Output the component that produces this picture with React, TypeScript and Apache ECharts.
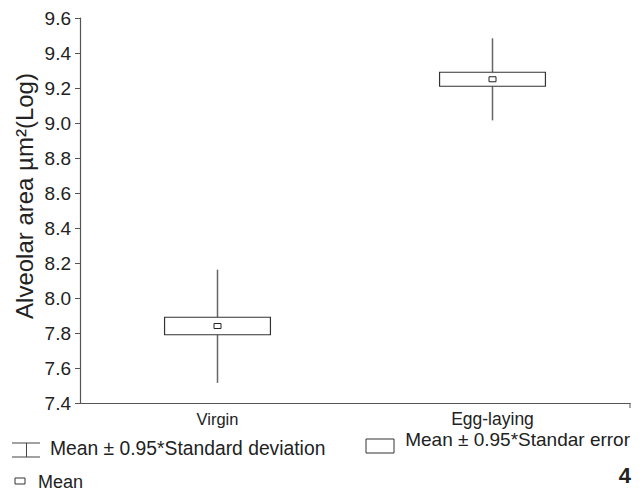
import React, { useEffect, useRef } from "react";
import * as echarts from "echarts";

const categories = ["Virgin", "Egg-laying"];
const means = [7.84, 9.25];
const seLow = [7.79, 9.21];
const seHigh = [7.89, 9.29];
const sdLow = [7.515, 9.015];
const sdHigh = [8.162, 9.484];
const yTicks = ["7.4", "7.6", "7.8", "8.0", "8.2", "8.4", "8.6", "8.8", "9.0", "9.2", "9.4", "9.6"];

const FONT = "'Liberation Sans', Arial, sans-serif";

export default function App() {
  const ref = useRef<HTMLDivElement>(null);
  useEffect(() => {
    if (!ref.current) return;
    const chart = echarts.init(ref.current, null, { renderer: "svg" });
    const data = categories.map((_, i) => [i, means[i], seLow[i], seHigh[i], sdLow[i], sdHigh[i]]);
    chart.setOption({
      animation: false,
      textStyle: { fontFamily: FONT },
      grid: { left: 80, right: 12, top: 18, bottom: 89 },
      xAxis: {
        type: "category",
        data: [
          { value: categories[0], textStyle: { fontSize: 16.5 } },
          { value: categories[1], textStyle: { fontSize: 17.5 } },
        ],
        axisLine: { lineStyle: { color: "#555", width: 1.2 } },
        axisTick: { alignWithLabel: true, length: 5, lineStyle: { color: "#555" } },
        axisLabel: { color: "#222", margin: 7, fontFamily: FONT },
      },
      yAxis: {
        type: "value",
        min: 7.4,
        max: 9.6,
        interval: 0.2,
        splitLine: { show: false },
        axisLine: { show: true, lineStyle: { color: "#555", width: 1.2 } },
        axisTick: { show: true, length: 5, lineStyle: { color: "#555" } },
        axisLabel: {
          color: "#222",
          fontSize: 19,
          margin: 9,
          fontFamily: FONT,
          formatter: (v: number) => {
            const s = v.toFixed(1);
            return yTicks.includes(s) ? s : "";
          },
        },
      },
      series: [
        {
          type: "custom",
          data,
          encode: { x: 0, y: [1, 2, 3, 4, 5] },
          renderItem: (params: any, api: any) => {
            const idx = api.value(0);
            const halfW = (api.size([1, 0])[0] * 0.385) / 2;
            const pMean = api.coord([idx, api.value(1)]);
            const pSeL = api.coord([idx, api.value(2)]);
            const pSeH = api.coord([idx, api.value(3)]);
            const pSdL = api.coord([idx, api.value(4)]);
            const pSdH = api.coord([idx, api.value(5)]);
            const x = pMean[0];
            return {
              type: "group",
              children: [
                {
                  type: "line",
                  shape: { x1: x, y1: pSdH[1], x2: x, y2: pSeH[1] },
                  style: { stroke: "#666", lineWidth: 1.5 },
                },
                {
                  type: "line",
                  shape: { x1: x, y1: pSeL[1], x2: x, y2: pSdL[1] },
                  style: { stroke: "#666", lineWidth: 1.5 },
                },
                {
                  type: "rect",
                  shape: { x: x - halfW, y: pSeH[1], width: halfW * 2, height: pSeL[1] - pSeH[1] },
                  style: { fill: "#fff", stroke: "#333", lineWidth: 1.2 },
                },
                {
                  type: "rect",
                  shape: { x: x - 3.5, y: pMean[1] - 2.5, width: 7, height: 5 },
                  style: { fill: "#fff", stroke: "#222", lineWidth: 1 },
                },
              ],
            };
          },
        },
      ],
      graphic: [
        {
          type: "text",
          x: 24,
          y: 196,
          rotation: Math.PI / 2,
          style: {
            text: "Alveolar area µm²(Log)",
            font: `24px ${FONT}`,
            fill: "#222",
            align: "center",
            verticalAlign: "middle",
          },
        },
        { type: "line", shape: { x1: 630, y1: 403, x2: 630, y2: 408 }, style: { stroke: "#555", lineWidth: 1 } },
        { type: "line", shape: { x1: 12, y1: 443, x2: 40, y2: 443 }, style: { stroke: "#444", lineWidth: 1 } },
        { type: "line", shape: { x1: 26.5, y1: 443, x2: 26.5, y2: 457 }, style: { stroke: "#444", lineWidth: 1 } },
        { type: "line", shape: { x1: 12, y1: 457, x2: 40, y2: 457 }, style: { stroke: "#444", lineWidth: 1 } },
        {
          type: "text",
          x: 50,
          y: 448,
          style: { text: "Mean ± 0.95*Standard deviation", font: `19.3px ${FONT}`, fill: "#222", verticalAlign: "middle" },
        },
        {
          type: "rect",
          shape: { x: 366, y: 439, width: 28, height: 14 },
          style: { fill: "#fff", stroke: "#333", lineWidth: 1 },
        },
        {
          type: "text",
          x: 630,
          y: 439.5,
          style: {
            text: "Mean ± 0.95*Standar error",
            font: `19px ${FONT}`,
            fill: "#222",
            align: "right",
            verticalAlign: "middle",
          },
        },
        {
          type: "rect",
          shape: { x: 15, y: 478, width: 10, height: 6 },
          style: { fill: "#fff", stroke: "#333", lineWidth: 1 },
        },
        {
          type: "text",
          x: 38,
          y: 482,
          style: { text: "Mean", font: `18px ${FONT}`, fill: "#222", verticalAlign: "middle" },
        },
        {
          type: "text",
          x: 631,
          y: 475,
          style: { text: "4", font: `bold 22px ${FONT}`, fill: "#222", align: "right", verticalAlign: "middle" },
        },
      ],
    });
    return () => chart.dispose();
  }, []);
  return <div ref={ref} style={{ position: "absolute", left: 0, top: 0, width: 642, height: 492 }} />;
}
